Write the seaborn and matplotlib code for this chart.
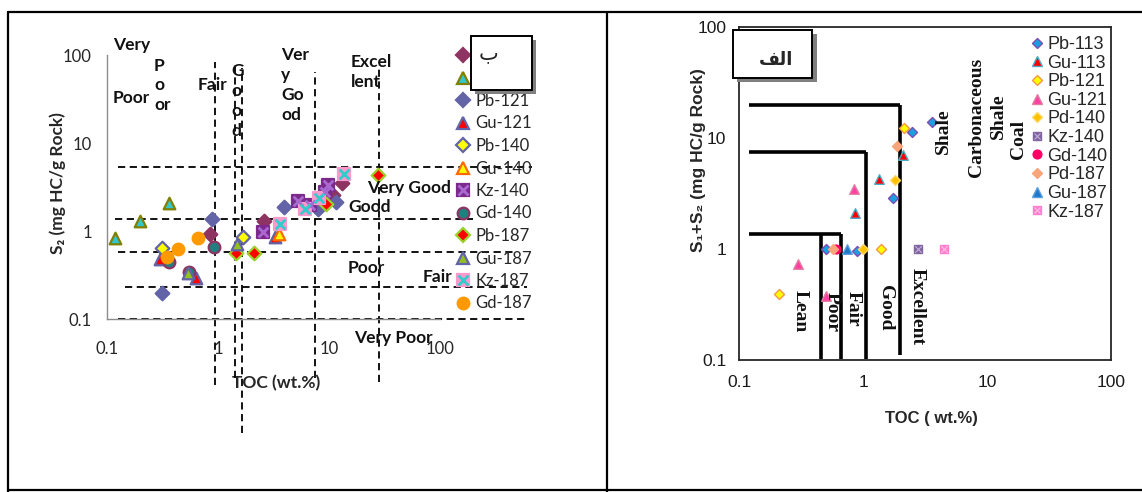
import matplotlib
matplotlib.use("Agg")
import matplotlib.pyplot as plt
import seaborn as sns
from matplotlib.lines import Line2D
from matplotlib.patches import Rectangle
from matplotlib.ticker import FixedLocator, FixedFormatter, LogLocator, NullFormatter

sns.set_style("white")
plt.rcParams["font.family"] = ["Lato", "DejaVu Sans"]

# ---------------- data ----------------
tick_values = [0.1, 1, 10, 100]
tick_labels = ["0.1", "1", "10", "100"]

# Left chart (S2 vs TOC)
L_pb113_toc = [0.85, 2.6, 10.9, 13.2]
L_pb113_s2 = [0.92, 1.31, 2.57, 3.55]
L_gu113_toc = [0.118, 0.198, 0.364]
L_gu113_s2 = [0.83, 1.31, 2.06]
L_pb121_toc = [0.315, 0.877, 3.9, 8.0, 11.6]
L_pb121_s2 = [0.20, 1.38, 1.86, 1.76, 2.15]
L_gu121_toc = [0.30, 0.64, 3.27]
L_gu121_s2 = [0.48, 0.29, 0.85]
L_pb140_toc = [0.315, 1.67]
L_pb140_s2 = [0.636, 0.85]
L_gu140_toc = [3.57]
L_gu140_s2 = [0.93]
L_kz140_toc = [2.56, 5.3, 6.74, 9.2, 9.87]
L_kz140_s2 = [0.98, 2.22, 1.97, 2.8, 3.33]
L_gd140_toc = [0.36, 0.55, 0.92]
L_gd140_s2 = [0.44, 0.34, 0.65]
L_pb187_toc = [1.45, 2.11, 9.4, 27.5]
L_pb187_s2 = [0.56, 0.56, 2.03, 4.33]
L_gu187_toc = [0.54, 1.47]
L_gu187_s2 = [0.33, 0.71]
L_kz187_toc = [3.62, 6.08, 8.18, 13.7]
L_kz187_s2 = [1.19, 1.76, 2.35, 4.44]
L_gd187_toc = [0.345, 0.433, 0.665]
L_gd187_s2 = [0.50, 0.63, 0.84]

# legend labels of the left chart (first two are hidden behind the "ب" box)
left_legend_labels = ["", "", "Pb-121", "Gu-121", "Pb-140", "Gu-140",
                      "Kz-140", "Gd-140", "Pb-187", "Gu-187", "Kz-187", "Gd-187"]

left_toc_limits = [0.93, 1.42, 1.64, 7.5, 28.0]
left_s2_limits = [5.3, 1.36, 0.57, 0.233, 0.1]

# Right chart (S1+S2 vs TOC)
R_pb113_toc = [3.58, 2.5, 1.73, 0.50, 0.90]
R_pb113_s = [14.0, 11.4, 2.86, 1.0, 0.95]
R_gu113_toc = [2.11, 1.35, 0.86]
R_gu113_s = [7.0, 4.3, 2.1]
R_pb121_toc = [2.14, 1.4, 0.21]
R_pb121_s = [12.2, 1.0, 0.39]
R_gu121_toc = [0.85, 0.30, 0.50]
R_gu121_s = [3.5, 0.74, 0.38]
R_pd140_toc = [1.81, 1.0]
R_pd140_s = [4.2, 1.0]
R_kz140_toc = [2.8]
R_kz140_s = [1.0]
R_gd140_toc = [0.61]
R_gd140_s = [1.0]
R_pd187_toc = [1.87, 0.57]
R_pd187_s = [8.5, 1.0]
R_gu187_toc = [0.74]
R_gu187_s = [1.0]
R_kz187_toc = [4.5]
R_kz187_s = [1.0]

right_legend_labels = ["Pb-113", "Gu-113", "Pb-121", "Gu-121", "Pd-140",
                       "Kz-140", "Gd-140", "Pd-187", "Gu-187", "Kz-187"]

# classification frame (right)
right_h_levels = [20.0, 7.5, 1.36]
right_h_start = 0.12
right_h_ends = [2.0, 1.05, 0.66]
right_v_x = [2.0, 1.05, 0.66, 0.46]
right_v_top = [20.0, 7.5, 1.36, 1.36]
right_v_bottom = [0.11, 0.102, 0.102, 0.102]

# ---------------- figure ----------------
W, H = 1142, 492
fig = plt.figure(figsize=(W / 100, H / 100), dpi=100)

axL = fig.add_axes([107 / W, 1 - 319 / H, 333 / W, 264 / H])
axR = fig.add_axes([739 / W, 1 - 360 / H, 372 / W, 333 / H])


def lx(px):
    return (px - 107) / 333


def ly(py):
    return (319 - py) / 264


def rx(px):
    return (px - 739) / 372


def ry(py):
    return (360 - py) / 333


def setup_log(ax):
    ax.set_xscale("log")
    ax.set_yscale("log")
    ax.set_xlim(0.1, 100)
    ax.set_ylim(0.1, 100)
    for axis in (ax.xaxis, ax.yaxis):
        axis.set_major_locator(FixedLocator(tick_values))
        axis.set_major_formatter(FixedFormatter(tick_labels))
        axis.set_minor_locator(LogLocator(base=10, subs=range(2, 10)))
        axis.set_minor_formatter(NullFormatter())


# ---------- left panel ----------
setup_log(axL)
for s in ["top", "right"]:
    axL.spines[s].set_visible(False)
for s in ["left", "bottom"]:
    axL.spines[s].set_color("#8c8c8c")
    axL.spines[s].set_linewidth(1.0)
axL.tick_params(which="both", direction="in", color="#8c8c8c", labelcolor="#262626",
                labelsize=12)
axL.tick_params(which="major", length=6)
axL.tick_params(which="minor", length=3.5)
axL.tick_params(axis="x", pad=16)
axL.tick_params(axis="y", pad=11)

left_styles = [
    (L_pb113_toc, L_pb113_s2, "D", "#8e3462", "#8e3462", None),
    (L_gu113_toc, L_gu113_s2, "^", "#33c6cc", "#808000", None),
    (L_pb121_toc, L_pb121_s2, "D", "#6264a7", "#6264a7", None),
    (L_gu121_toc, L_gu121_s2, "^", "#ff0000", "#6264a7", None),
    (L_pb140_toc, L_pb140_s2, "D", "#ffff00", "#6264a7", None),
    (L_gu140_toc, L_gu140_s2, "^", "#ffff00", "#ff6a00", None),
    (L_kz140_toc, L_kz140_s2, "s", "#7b2a8c", "#7b2a8c", "#a86ad0"),
    (L_gd140_toc, L_gd140_s2, "o", "#1f8080", "#8e3462", None),
    (L_pb187_toc, L_pb187_s2, "D", "#ff0000", "#9bd12a", None),
    (L_gu187_toc, L_gu187_s2, "^", "#92c020", "#6264a7", None),
    (L_kz187_toc, L_kz187_s2, "s", "#ff99cc", "#ff99cc", "#33cccc"),
    (L_gd187_toc, L_gd187_s2, "o", "#ff9900", "#ff9900", None),
]
left_size = {"D": 48, "^": 70, "s": 70, "o": 70}
left_handles = []
for xs, ys, mk, fc, ec, xc in left_styles:
    sns.scatterplot(x=xs, y=ys, ax=axL, marker=mk, s=left_size[mk], color=fc,
                    edgecolor=ec, linewidth=1.6, zorder=4, clip_on=False)
    h = Line2D([], [], ls="", marker=mk, markerfacecolor=fc, markeredgecolor=ec,
               markeredgewidth=1.6, markersize=left_size[mk] ** 0.5)
    if xc is not None:
        sns.scatterplot(x=xs, y=ys, ax=axL, marker="x", s=left_size[mk] * 0.7,
                        color=xc, linewidth=2.0, zorder=5, clip_on=False)
        hx = Line2D([], [], ls="", marker="x", markeredgecolor=xc, markeredgewidth=2.0,
                    markersize=(left_size[mk] * 0.7) ** 0.5)
        h = (h, hx)
    left_handles.append(h)

axL.legend(left_handles, left_legend_labels, loc="upper left",
           bbox_to_anchor=(lx(456.5), ly(48)), frameon=False, fontsize=12,
           handlelength=0.8, handletextpad=0.33, labelspacing=0.39,
           borderpad=0, borderaxespad=0)

dash = dict(color="black", lw=1.3, dashes=(4, 2.5), clip_on=False, zorder=2)
v_extent = [(-0.25, 0.973), (-0.223, 0.973), (-0.432, 0.95), (-0.223, 0.936), (-0.239, 0.962)]
for v, (y0, y1) in zip(left_toc_limits, v_extent):
    axL.plot([v, v], [y0, y1], transform=axL.get_xaxis_transform(), **dash)
h_extent = [(0.033, 1.276), (0.024, 1.099), (0.033, 1.225), (0.054, 1.261), (0.033, 1.261)]
for v, (x0, x1) in zip(left_s2_limits, h_extent):
    axL.plot([x0, x1], [v, v], transform=axL.get_yaxis_transform(), **dash)

left_texts = [
    ("Very", 113, 45), ("Poor", 113, 98), ("P\no\nor", 154, 85.5), ("Fair", 198, 85),
    ("G\no\no\nd", 231, 101), ("Ver\ny\nGo\nod", 281, 85), ("Excel\nlent", 351, 72),
    ("Very Good", 367, 188), ("Good", 348, 207), ("Poor", 348, 268), ("Fair", 423, 277),
    ("Very Poor", 354, 338),
]
for t, px, py in left_texts:
    axL.text(lx(px), ly(py), t, transform=axL.transAxes, ha="left", va="center",
             fontsize=12.5, fontweight="bold", linespacing=1.3, color="#111111",
             zorder=6, clip_on=False)

axL.set_xlabel("TOC (wt.%)", fontsize=12.5, fontweight="bold", va="center")
axL.xaxis.set_label_coords(lx(276), ly(383))
axL.set_ylabel("S\u2082 (mg HC/g Rock)", fontsize=12.5, fontweight="bold", va="center")
axL.yaxis.set_label_coords(lx(58), ly(183))

# ---------- right panel ----------
setup_log(axR)
for s in axR.spines.values():
    s.set_color("#262626")
    s.set_linewidth(1.3)
axR.tick_params(which="both", direction="out", color="#262626", labelcolor="#1a1a1a",
                labelsize=12.5, labelfontfamily="Liberation Sans")
axR.tick_params(which="major", length=4)
axR.tick_params(which="minor", length=2.5)
axR.tick_params(axis="x", pad=7)
axR.tick_params(axis="y", pad=5)

right_styles = [
    (R_pb113_toc, R_pb113_s, "D", "#1a9fe0", "#7a4fb0", None),
    (R_gu113_toc, R_gu113_s, "^", "#ff0000", "#4bacc6", None),
    (R_pb121_toc, R_pb121_s, "D", "#ffff00", "#f79646", None),
    (R_gu121_toc, R_gu121_s, "^", "#ff3fa4", "#e07fa0", None),
    (R_pd140_toc, R_pd140_s, "D", "#ffc000", "#ffd966", None),
    (R_kz140_toc, R_kz140_s, "s", "#8064a2", "#8064a2", "#c0b0d8"),
    (R_gd140_toc, R_gd140_s, "o", "#ff0066", "#ff0066", None),
    (R_pd187_toc, R_pd187_s, "D", "#f8a57c", "#f8a57c", None),
    (R_gu187_toc, R_gu187_s, "^", "#1f78c8", "#5aa0e0", None),
    (R_kz187_toc, R_kz187_s, "s", "#ff7fcf", "#ff7fcf", "#ffc0e0"),
]
right_size = {"D": 26, "^": 48, "s": 40, "o": 40}
right_handles = []
for xs, ys, mk, fc, ec, xc in right_styles:
    sns.scatterplot(x=xs, y=ys, ax=axR, marker=mk, s=right_size[mk], color=fc,
                    edgecolor=ec, linewidth=1.0, zorder=4)
    h = Line2D([], [], ls="", marker=mk, markerfacecolor=fc, markeredgecolor=ec,
               markeredgewidth=1.0, markersize=right_size[mk] ** 0.5)
    if xc is not None:
        sns.scatterplot(x=xs, y=ys, ax=axR, marker="x", s=right_size[mk] * 0.6,
                        color=xc, linewidth=0.8, zorder=5)
        hx = Line2D([], [], ls="", marker="x", markeredgecolor=xc, markeredgewidth=0.8,
                    markersize=(right_size[mk] * 0.6) ** 0.5)
        h = (h, hx)
    right_handles.append(h)

axR.legend(right_handles, right_legend_labels, loc="upper left",
           bbox_to_anchor=(rx(1031.5), ry(36)), frameon=False,
           prop={"family": "Liberation Sans", "size": 13},
           handlelength=0.6, handletextpad=0.28, labelspacing=0.09,
           borderpad=0, borderaxespad=0)

solid = dict(color="black", lw=2.6, solid_capstyle="butt", zorder=3)
for lvl, xe in zip(right_h_levels, right_h_ends):
    axR.plot([right_h_start, xe], [lvl, lvl], **solid)
for xv, yt, yb in zip(right_v_x, right_v_top, right_v_bottom):
    axR.plot([xv, xv], [yt, yb], **solid)

right_texts = [
    ("Lean", 800, 311, 270), ("Poor", 832, 312, 270), ("Fair", 853, 309, 270),
    ("Good", 885, 308, 270), ("Excellent", 917, 307, 270), ("Shale", 943, 131, 90),
    ("Carbonaceous", 977, 117, 90), ("Shale", 998, 116, 90), ("Coal", 1018, 139, 90),
]
for t, px, py, rot in right_texts:
    axR.text(rx(px), ry(py), t, transform=axR.transAxes, ha="center", va="center",
             rotation=rot, rotation_mode="anchor", fontsize=14, fontweight="bold",
             family="Liberation Serif", color="#111111", zorder=6)

axR.set_xlabel("TOC ( wt.%)", fontsize=12, fontweight="bold", va="center",
               family=["Liberation Sans", "DejaVu Sans"])
axR.xaxis.set_label_coords(rx(931), ry(418))
axR.set_ylabel("S\u2081+S\u2082 (mg HC/g Rock)", fontsize=12.5, fontweight="bold",
               va="center", family=["Liberation Sans", "DejaVu Sans"])
axR.yaxis.set_label_coords(rx(698), ry(160))


# ---------- figure-level decorations ----------
def fig_rect(x0, y0, x1, y1, **kw):
    r = Rectangle((x0 / W, 1 - y1 / H), (x1 - x0) / W, (y1 - y0) / H,
                  transform=fig.transFigure, **kw)
    fig.add_artist(r)


def fig_line(xs, ys):
    fig.add_artist(Line2D([x / W for x in xs], [1 - y / H for y in ys],
                          transform=fig.transFigure, color="black", lw=1.6, zorder=1))


fig_line([8, 1142], [12, 12])
fig_line([8, 8], [12, 492])
fig_line([607, 607], [12, 492])
fig_line([8, 1142], [490, 490])

# box "ب"
fig_rect(475, 40, 536, 94, facecolor="#808080", edgecolor="none", zorder=8)
fig_rect(471, 36, 532, 90, facecolor="white", edgecolor="black", lw=1.4, zorder=9)
fig.text(488 / W, 1 - 53 / H, "\u0628", ha="center", va="center", fontsize=15,
         family="DejaVu Sans", zorder=10)

# box "الف"
fig_rect(737, 34, 817, 82, facecolor="#808080", edgecolor="none", zorder=8)
fig_rect(733, 30, 812, 78, facecolor="white", edgecolor="black", lw=1.4, zorder=9)
fig.text(776 / W, 1 - 60 / H, "\uFED2\uFEDF\uFE8D", ha="center", va="center",
         fontsize=13, fontweight="bold", family="DejaVu Sans", zorder=10)

fig.savefig("out.png", dpi=100)
